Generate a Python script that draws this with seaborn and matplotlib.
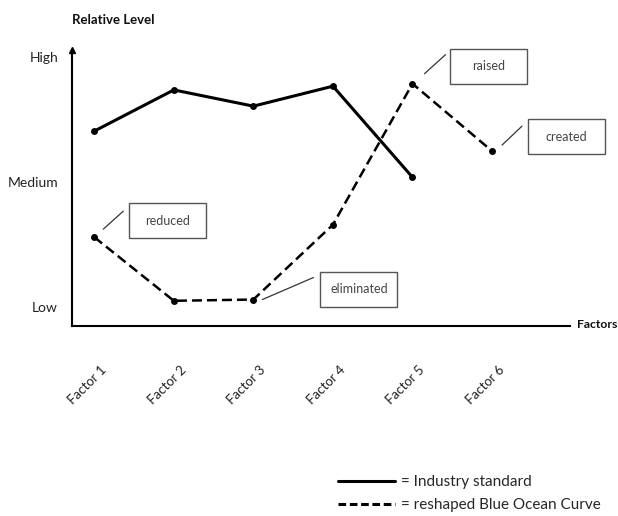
import numpy as np
import pandas as pd
import matplotlib
matplotlib.use("Agg")
import matplotlib.pyplot as plt
import matplotlib.transforms as mtransforms
from matplotlib.patches import Rectangle
from matplotlib.lines import Line2D
import seaborn as sns

# Данные (0 = Low, 1 = Medium, 2 = High)
factors = ["Factor 1", "Factor 2", "Factor 3", "Factor 4", "Factor 5", "Factor 6"]
level_labels = ["Low", "Medium", "High"]
industry = [1.41, 1.74, 1.61, 1.77, 1.04]
blue_ocean = [0.56, 0.05, 0.06, 0.66, 1.79, 1.25]
notes = ["reduced", "eliminated", "raised", "created"]
note_factor = [0, 2, 4, 5]
series_names = ["= Industry standard", "= reshaped Blue Ocean Curve"]

sns.set_style("white")
plt.rcParams["font.family"] = ["Lato", "DejaVu Sans"]

df_ind = pd.DataFrame({"x": np.arange(len(industry)), "y": industry})
df_bo = pd.DataFrame({"x": np.arange(len(blue_ocean)), "y": blue_ocean})

fig = plt.figure(figsize=(6.18, 5.16), dpi=100)
ax = fig.add_axes([72 / 618, 1 - 326 / 516, (570 - 72) / 618, (326 - 50) / 516])

sns.lineplot(data=df_ind, x="x", y="y", ax=ax, color="black", linewidth=2.2,
             marker="o", markersize=5, markeredgewidth=0)
sns.lineplot(data=df_bo, x="x", y="y", ax=ax, color="black", linewidth=1.8,
             linestyle=(0, (4, 2)), marker="o", markersize=5, markeredgewidth=0)

ax.set_xlim(-0.28, 5.98)
ax.set_ylim(-0.152, 2.06)

for s in ["top", "right"]:
    ax.spines[s].set_visible(False)
for s in ["left", "bottom"]:
    ax.spines[s].set_linewidth(1.5)
    ax.spines[s].set_color("black")

# стрелка на оси Y
ax.plot(0, 1, marker="^", markersize=4, color="black", transform=ax.transAxes, clip_on=False)

ax.set_yticks(range(3))
ax.set_yticklabels(level_labels, fontsize=10, color="#222222")
ax.set_xticks(range(len(factors)))
ax.set_xticklabels(factors, fontsize=9.5, color="#222222", rotation=45,
                   ha="right", rotation_mode="anchor")
ax.tick_params(axis="y", length=0, pad=10)
ax.tick_params(axis="x", length=0, pad=27)
shift = mtransforms.ScaledTranslation(6 / 100, 0, fig.dpi_scale_trans)
for lab in ax.get_xticklabels():
    lab.set_transform(lab.get_transform() + shift)
ax.set_xlabel("")
ax.set_ylabel("")

fig.text(72 / 618, 1 - 20 / 516, "Relative Level", fontsize=9.5, fontweight="bold",
         ha="left", va="center", color="#111111")
fig.text(577 / 618, 1 - 324 / 516, "Factors", fontsize=8.8, fontweight="bold",
         ha="left", va="center", color="#111111")

# подписи в рамках (смещения в пикселях от точки)
box_off = [(35, -1), (67, -7), (38, 0), (36, -3)]
lead = [((9, 8), (29, 26)), ((9, 0), (60, 22)), ((12, 10), (33, 29)), ((10, 6), (30, 25))]
bw, bh = 77, 35
for txt, fi, (dx, dy), (p0, p1) in zip(notes, note_factor, box_off, lead):
    tr = fig.dpi_scale_trans + mtransforms.ScaledTranslation(fi, blue_ocean[fi], ax.transData)
    ax.add_patch(Rectangle((dx / 100, dy / 100), bw / 100, bh / 100, transform=tr,
                           fill=False, edgecolor="#555555", linewidth=1.0, clip_on=False))
    ax.text((dx + bw / 2) / 100, (dy + bh / 2) / 100, txt, transform=tr, ha="center",
            va="center", fontsize=9, color="#444444")
    ax.add_line(Line2D([p0[0] / 100, p1[0] / 100], [p0[1] / 100, p1[1] / 100], transform=tr,
                       color="#333333", linewidth=0.9, clip_on=False))

handles = [Line2D([], [], color="black", linewidth=2.2),
           Line2D([], [], color="black", linewidth=2.2, linestyle=(0, (2.5, 1.2)))]
fig.legend(handles, series_names, loc="upper left", bbox_to_anchor=(338 / 618, 1 - 475 / 516),
           frameon=False, fontsize=11, handlelength=3.7, handletextpad=0.45,
           labelspacing=0.62, borderpad=0, borderaxespad=0)

fig.savefig("out.png", dpi=100)
